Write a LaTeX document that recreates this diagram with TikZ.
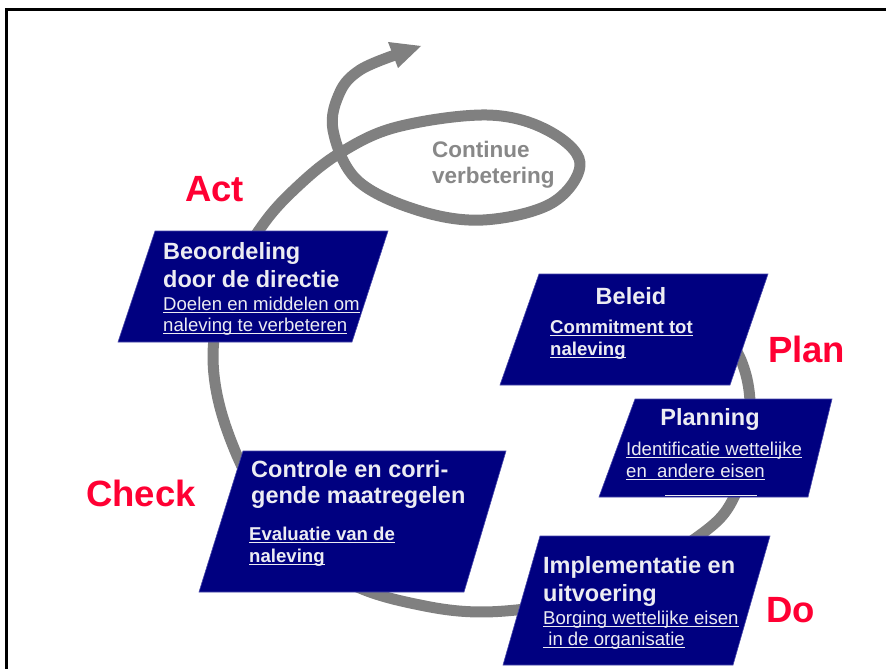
\documentclass[tikz,border=0pt]{standalone}
\usepackage{fontspec}
\setmainfont{Liberation Sans}
\definecolor{navy}{RGB}{0,0,128}
\definecolor{boxedge}{RGB}{70,70,170}
\definecolor{boxtext}{RGB}{236,236,242}
\definecolor{loopgray}{RGB}{128,128,128}
\definecolor{cvgray}{RGB}{136,136,136}
\definecolor{pdcared}{RGB}{255,0,51}
\newsavebox\ulbox
\newcommand\ulx[1]{\sbox\ulbox{#1}\rlap{\rule[-3.4pt]{\wd\ulbox}{1.3pt}}\usebox\ulbox}
\begin{document}
\begin{tikzpicture}[x=1pt,y={(0pt,-1pt)},
  pbox/.style={fill=navy, draw=boxedge, line width=0.6pt},
  ttl/.style={font=\fontsize{23.5}{28}\selectfont\bfseries, text=boxtext, inner sep=0pt, anchor=base west},
  sub/.style={font=\fontsize{18.6}{22}\selectfont, text=boxtext, inner sep=0pt, anchor=base west},
  subb/.style={sub, font=\fontsize{18.6}{22}\selectfont\bfseries},
  redlbl/.style={font=\fontsize{36.5}{40}\selectfont\bfseries, text=pdcared, inner sep=0pt, anchor=base west},
  cvtext/.style={font=\fontsize{22.5}{26}\selectfont\bfseries, text=cvgray, inner sep=0pt, anchor=base west},
  spiral/.style={draw=loopgray, line width=11pt, line cap=butt, line join=round},
  frameline/.style={draw=black, line width=2.4pt}]
\useasboundingbox (0,0) rectangle (886,669);
\fill[white] (0,0) rectangle (886,669);
% frame
\draw[frameline] (6.5,669) -- (6.5,9.7) -- (886,9.7);
% spiral
\draw[spiral] plot[smooth, tension=0.6] coordinates {
  (700,300) (741,360) (750,422) (735,495) (696,538) (600,592)
  (505,611) (425,606) (340,578) (268,510) (227,430)
  (213,355) (228,285) (262,226) (297,187) (340,153)
  (397,127) (487,115) (547,130) (580,163) (552,203) (483,220) (417,210)
  (357,180) (333,130) (340,92) (360,70) (395,55)};
\fill[loopgray] (388,42) -- (421,46) -- (398,68) -- cycle;
% boxes
\filldraw[pbox] (155,231) -- (388,231) -- (352,342) -- (118,342) -- cycle;
\filldraw[pbox] (539,274) -- (768,274) -- (730,385) -- (500,385) -- cycle;
\filldraw[pbox] (635,399) -- (832,399) -- (808,497) -- (599,497) -- cycle;
\filldraw[pbox] (243,451) -- (506,451) -- (464,592) -- (199,592) -- cycle;
\filldraw[pbox] (540,536) -- (770,536) -- (733,665) -- (503,665) -- cycle;
\draw[boxtext, line width=1.3pt] (665,495.5) -- (757,495.5);
% Beoordeling
\node[ttl] (act1) at (163,259) {Beoordeling};
\node[ttl] (act2) at (163,287) {door de directie};
\node[sub] (act3) at (163,310) {\ulx{Doelen en middelen om}};
\node[sub] (act4) at (163,331) {\ulx{naleving te verbeteren}};
% Beleid
\node[ttl, anchor=base] (pol1) at (631,304) {Beleid};
\node[subb] (pol2) at (550,333) {\ulx{Commitment tot}};
\node[subb] (pol3) at (550,355) {\ulx{naleving}};
% Planning
\node[ttl, anchor=base] (pla1) at (710,425) {Planning};
\node[sub] (pla2) at (626,455) {\ulx{Identificatie wettelijke}};
\node[sub] (pla3) at (626,477) {\ulx{en\ \ andere eisen}};
% Controle
\node[ttl] (chk1) at (251,477) {Controle en corri-};
\node[ttl] (chk2) at (251,503) {gende maatregelen};
\node[subb] (chk3) at (249,540) {\ulx{Evaluatie van de}};
\node[subb] (chk4) at (249,562) {\ulx{naleving}};
% Implementatie
\node[ttl] (do1) at (543,573) {Implementatie en};
\node[ttl] (do2) at (543,601) {uitvoering};
\node[sub] (do3) at (543,624) {\ulx{Borging wettelijke eisen}};
\node[sub] (do4) at (543,645) {\ulx{\ in de organisatie}};
% PDCA labels
\node[redlbl] (lact) at (185,201) {Act};
\node[redlbl] (lplan) at (768,362) {Plan};
\node[redlbl] (lcheck) at (86,506) {Check};
\node[redlbl] (ldo) at (766,622) {Do};
% loop text
\node[cvtext] (cv1) at (432,157) {Continue};
\node[cvtext] (cv2) at (432,183) {verbetering};
\end{tikzpicture}
\end{document}
